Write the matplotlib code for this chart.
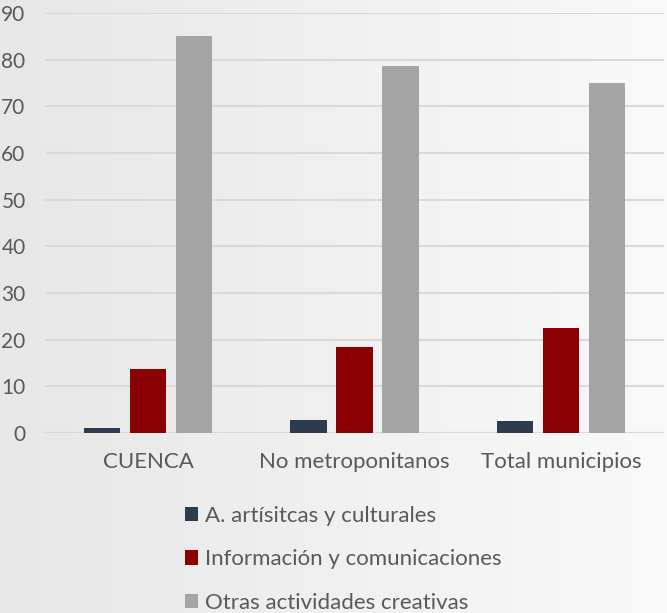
import numpy as np
import matplotlib
matplotlib.use("Agg")
import matplotlib.pyplot as plt
from matplotlib.patches import Patch
from matplotlib.colors import LinearSegmentedColormap

categories = ["CUENCA", "No metroponitanos", "Total municipios"]
series_names = ["A. artísitcas y culturales", "Información y comunicaciones", "Otras actividades creativas"]
artisticas = [1.0, 2.8, 2.5]
informacion = [13.7, 18.4, 22.4]
otras = [85.1, 78.6, 75.0]
colors = ["#2e3b4e", "#8b0000", "#a5a5a5"]
yticks = list(range(0, 100, 10))

plt.rcParams['font.family'] = ['Lato', 'DejaVu Sans']
text_color = "#595959"

fig = plt.figure(figsize=(6.67, 6.13), dpi=100)
# background gradient
bg = fig.add_axes([0, 0, 1, 1], zorder=-10)
grad = np.linspace(0, 1, 256)[None, :]
cmap = LinearSegmentedColormap.from_list("bg", ["#e7e7e7", "#f9f9f9"])
bg.imshow(grad, aspect='auto', cmap=cmap, extent=[0, 1, 0, 1])
bg.axis('off')

ax = fig.add_axes([0.0675, 0.2936, 0.928, 0.6852])
ax.patch.set_alpha(0)
x = np.arange(len(categories))
w = 0.175
off = 0.223
for i, (vals, name) in enumerate(zip([artisticas, informacion, otras], series_names)):
    ax.bar(x + (i - 1) * off, vals, width=w, color=colors[i], label=name, zorder=3)

ax.set_xlim(-0.5, 2.5)
ax.set_ylim(0, 90)
ax.set_yticks(yticks)
ax.set_yticklabels([str(t) for t in yticks])
ax.set_xticks(x)
ax.set_xticklabels(categories)
ax.yaxis.grid(True, color="#d9d9d9", linewidth=1.5, zorder=0)
ax.set_axisbelow(True)
for s in ax.spines.values():
    s.set_visible(False)
ax.tick_params(axis='x', length=0, colors=text_color, labelsize=16, pad=14)
ax.tick_params(axis='y', length=0, colors=text_color, labelsize=15, pad=14)
ax.axhline(0, color="#d9d9d9", linewidth=1.5, zorder=1)

handles = [Patch(facecolor=c, edgecolor='none') for c in colors]
leg = fig.legend(handles, series_names, loc='upper left', bbox_to_anchor=(0.277, 0.175),
                 frameon=False, fontsize=16, labelcolor=text_color,
                 handlelength=0.6, handleheight=0.6, handletextpad=0.3,
                 labelspacing=1.06, borderaxespad=0, borderpad=0)

fig.savefig("out.png", dpi=100)
